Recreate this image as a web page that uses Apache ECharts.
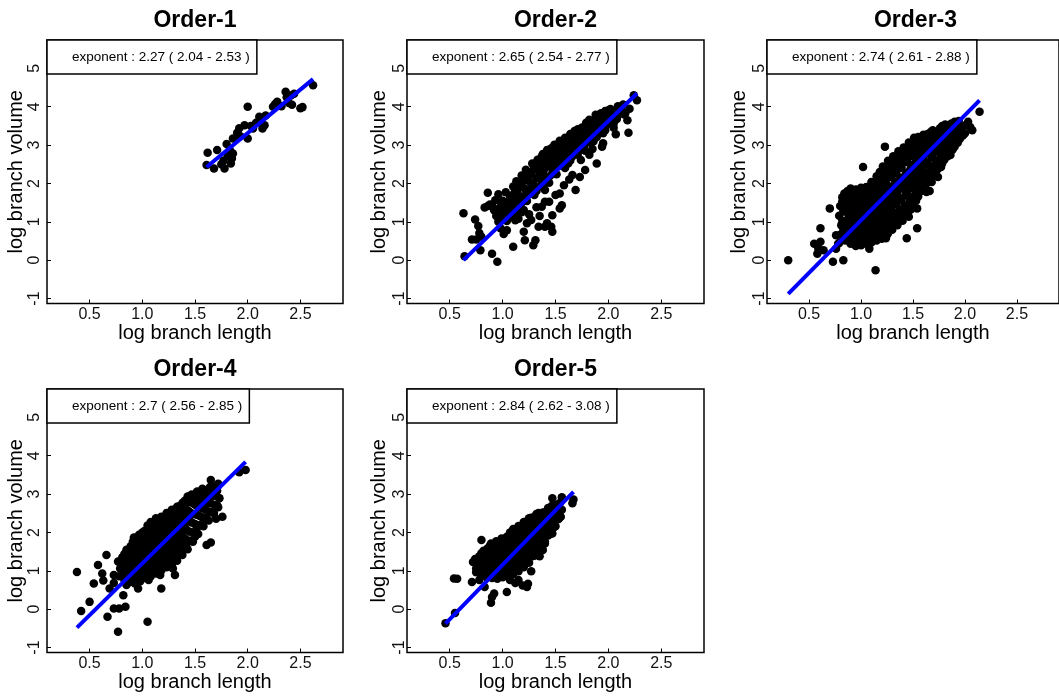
<!DOCTYPE html>
<html>
<head>
<meta charset="utf-8">
<script src="https://cdn.jsdelivr.net/npm/echarts@6/dist/echarts.min.js"></script>
<style>
  html, body { margin: 0; padding: 0; background: #fff; }
  #chart { width: 1059px; height: 698px; }
</style>
</head>
<body>
<div id="chart"></div>
<script>
// Allometric scaling of branch volume against branch length, one panel per branch order.
const panelTitles = ['Order-1', 'Order-2', 'Order-3', 'Order-4', 'Order-5'];
const exponents = [2.27, 2.65, 2.74, 2.7, 2.84];
const ciLow = [2.04, 2.54, 2.61, 2.56, 2.62];
const ciHigh = [2.53, 2.77, 2.88, 2.85, 3.08];
const intercepts = [-1.227, -1.67, -1.70, -1.506, -1.685];
const xTicks = [0.5, 1.0, 1.5, 2.0, 2.5];
const yTicks = [-1, 0, 1, 2, 3, 4, 5];

// [log branch length, log branch volume]
const order1 = [
  [1.62,2.80],[1.61,2.48],[1.68,2.39],[1.71,2.87],[1.77,2.59],[1.78,2.39],[1.81,2.71],[1.80,3.03],
  [1.84,2.52],[1.85,2.65],[1.86,2.78],[1.86,3.17],[1.90,3.32],[1.92,3.44],[1.93,3.23],[1.97,3.52],
  [2.00,4.00],[2.00,3.17],[2.05,3.43],[2.08,3.58],[2.11,3.74],[2.14,3.43],[2.16,3.52],[2.17,3.77],
  [2.24,4.00],[2.26,4.07],[2.28,4.13],[2.32,4.01],[2.36,4.39],[2.37,4.25],[2.39,4.10],[2.41,4.29],
  [2.44,4.34],[2.42,4.05],[2.50,3.96],[2.52,3.99],[2.62,4.56],[1.75,2.50],[1.83,2.88],[2.03,3.50],
  [2.12,3.62]
];

const order2 = [
  [0.63,1.22],[0.64,0.10],[0.74,1.06],[0.77,0.89],[0.78,0.71],[0.71,0.54],[0.75,0.54],[0.80,0.61],
  [0.83,1.37],[0.86,1.41],[0.86,1.76],[0.90,1.41],[0.79,0.26],[0.90,0.17],[0.95,-0.04],[0.94,1.15],
  [0.96,1.00],[0.98,0.83],[1.01,0.68],[0.97,1.17],[1.04,0.78],[1.10,0.35],[1.12,1.04],[1.20,0.74],
  [1.21,0.52],[1.23,0.96],[1.29,0.39],[1.31,0.52],[1.34,0.87],[1.40,0.87],[1.42,0.96],[1.47,0.74],
  [1.46,0.87],[1.37,1.39],[1.40,1.52],[1.47,1.17],[1.54,1.35],[1.56,1.43],[1.69,1.83],[1.66,2.22],
  [1.73,2.17],[1.78,2.35],[1.74,2.61],[1.54,1.74],[1.50,1.70],[1.40,1.83],[1.62,2.52],[1.89,2.52],
  [1.94,2.96],[1.97,3.39],[2.07,3.28],[2.18,3.65],[2.19,3.32],[2.24,4.30],[2.27,4.17],
  [1.08,1.12],[1.15,1.08],[1.18,1.25],[1.25,1.20],[1.27,1.05],[1.32,1.38],[1.35,1.15],[1.44,1.52],
  [1.58,1.95],[1.63,2.10],[1.82,2.75],[1.85,2.90],[1.95,3.05],[2.05,3.45],[2.15,3.80],[2.20,3.95],
  [1.84,3.48],[2.00,3.91],[2.16,3.83],[2.10,3.91],[2.05,3.74],
  [0.88,1.45],[0.92,1.30],[0.93,1.56],[0.96,1.72],[0.97,1.36],[1.00,1.55],[0.98,1.12],[1.02,1.22],
  [1.03,1.77],[1.05,1.46],[1.04,1.02],[1.07,1.66],[1.08,1.31],[1.10,1.92],[1.11,1.56],[1.12,1.18],
  [1.13,2.06],[1.14,1.76],[1.09,1.44],[1.16,1.41],[1.17,1.97],[1.18,2.21],[1.19,1.66],[1.21,1.86],
  [1.22,2.36],[1.23,1.54],[1.24,2.07],[1.20,1.31],[1.26,1.79],[1.27,2.26],[1.28,2.52],[1.29,2.01],
  [1.30,1.70],[1.31,2.41],[1.32,2.14],[1.33,2.62],[1.34,1.91],[1.35,2.31],[1.36,2.56],[1.37,2.06],
  [1.38,2.77],[1.39,2.36],[1.40,2.19],[1.41,2.66],[1.42,2.87],[1.43,2.46],[1.44,2.02],[1.45,2.71],
  [1.46,2.92],[1.47,2.36],[1.48,2.56],[1.49,3.01],[1.50,2.76],[1.51,2.24],[1.52,2.96],[1.53,2.61],
  [1.54,3.11],[1.55,2.81],[1.56,2.46],[1.57,3.02],[1.58,2.71],[1.59,3.19],[1.60,2.91],[1.61,2.56],
  [1.62,3.09],[1.63,2.81],[1.64,3.29],[1.65,3.01],[1.66,2.71],[1.67,3.21],[1.68,3.37],[1.69,2.96],
  [1.70,3.11],[1.71,3.41],[1.72,2.86],[1.73,3.29],[1.74,3.06],[1.75,3.46],[1.76,3.21],[1.77,2.96],
  [1.78,3.41],[1.79,3.58],[1.80,3.16],[1.81,3.36],[1.82,3.66],[1.83,3.06],[1.84,3.51],[1.85,3.31],
  [1.86,3.64],[1.87,3.41],[1.88,3.79],[1.89,3.21],[1.90,3.56],[1.91,3.74],[1.92,3.42],[1.93,3.83],
  [1.94,3.61],[1.95,3.31],[1.96,3.76],[1.97,3.89],[1.98,3.52],[2.00,3.81],[2.01,3.66],[2.02,3.94],
  [2.04,3.76],[2.05,3.56],[2.07,3.91],[2.09,4.01],[2.10,3.81],[2.12,3.96],[2.14,4.06],
  [1.01,1.38],[1.06,1.55],[1.11,1.75],[1.15,1.60],[1.16,1.90],[1.19,2.05],[1.22,1.70],[1.25,2.20],
  [1.27,1.90],[1.29,2.35],[1.32,1.80],[1.33,2.45],[1.36,2.20],[1.37,2.70],[1.39,1.98],[1.41,2.45],
  [1.43,2.75],[1.45,2.20],[1.47,2.60],[1.48,2.85],[1.50,2.45],[1.52,2.70],[1.54,2.92],[1.56,2.62],
  [1.57,2.88],[1.59,2.40],[1.61,2.75],[1.62,3.20],[1.64,2.60],[1.66,3.10],[1.67,2.85],[1.69,3.28],
  [1.71,2.75],[1.72,3.15],[1.74,3.38],[1.76,3.05],[1.78,2.85],[1.79,3.28],[1.81,3.50],[1.83,3.20],
  [1.85,3.45],[1.86,3.10],[1.88,3.60],[1.90,3.38],[1.92,3.60],[1.94,3.45],[1.96,3.60],[1.99,3.70],
  [2.03,3.62],[2.06,3.80],[2.08,3.68],[2.11,3.88],[1.18,1.50],[1.12,1.35],[1.05,1.25],[0.99,1.45]
];

const order3 = [
  [0.30,0.00],[0.58,0.17],[0.55,0.43],[0.61,0.83],[0.59,0.30],[0.64,0.26],[0.70,1.35],[0.73,-0.04],
  [0.83,0.00],[0.76,0.65],[0.78,0.43],[1.02,2.43],[1.23,2.96],[1.14,-0.26],[1.08,0.30],[1.00,0.39],
  [1.24,0.57],[1.26,0.70],[1.44,0.57],[1.46,1.13],[1.54,1.35],[1.54,0.83],[1.63,1.78],[1.68,2.04],
  [1.66,1.80],[1.74,2.17],[1.77,2.43],[1.86,2.74],[1.87,3.22],[1.81,3.00],[1.93,3.43],[2.03,3.61],
  [2.07,3.39],[2.05,3.47],[2.14,3.87],[0.61,0.48],[0.58,0.39],[0.76,0.30],[0.79,0.45],
  [0.80,0.66],[0.81,0.91],[0.79,1.16],[0.80,1.41],[0.82,1.64],
  [0.85,0.51],[0.86,0.76],[0.84,1.01],[0.85,1.26],[0.86,1.49],[0.84,1.74],
  [0.90,0.43],[0.91,0.67],[0.89,0.96],[0.90,1.21],[0.91,1.44],[0.89,1.69],[0.90,1.87],
  [0.95,0.37],[0.96,0.61],[0.94,0.86],[0.95,1.09],[0.96,1.36],[0.94,1.61],[0.95,1.84],
  [1.00,0.41],[1.01,0.64],[0.99,0.91],[1.00,1.14],[1.01,1.41],[0.99,1.66],[1.00,1.89],
  [1.05,0.43],[1.06,0.69],[1.04,0.96],[1.05,1.19],[1.06,1.46],[1.04,1.71],[1.05,1.91],
  [1.10,0.46],[1.11,0.73],[1.09,0.99],[1.10,1.26],[1.11,1.51],[1.09,1.77],[1.10,2.04],
  [1.15,0.51],[1.16,0.77],[1.14,1.06],[1.15,1.31],[1.16,1.57],[1.14,1.84],[1.15,2.19],
  [1.20,0.56],[1.21,0.83],[1.19,1.09],[1.20,1.37],[1.21,1.64],[1.19,1.93],[1.20,2.21],[1.21,2.44],
  [1.25,0.66],[1.26,0.91],[1.24,1.21],[1.25,1.47],[1.26,1.76],[1.24,2.01],[1.25,2.31],[1.26,2.59],
  [1.30,0.79],[1.31,1.04],[1.29,1.33],[1.30,1.59],[1.31,1.87],[1.29,2.16],[1.30,2.41],[1.31,2.71],
  [1.35,0.91],[1.36,1.17],[1.34,1.46],[1.35,1.71],[1.36,2.01],[1.34,2.27],[1.35,2.56],[1.36,2.84],
  [1.40,1.03],[1.41,1.29],[1.39,1.57],[1.40,1.86],[1.41,2.11],[1.39,2.41],[1.40,2.67],[1.41,2.94],
  [1.45,1.21],[1.46,1.47],[1.44,1.76],[1.45,2.01],[1.46,2.31],[1.44,2.57],[1.45,2.86],[1.46,3.07],
  [1.50,1.41],[1.51,1.67],[1.49,1.96],[1.50,2.21],[1.51,2.51],[1.49,2.77],[1.50,3.04],[1.51,3.19],
  [1.55,1.66],[1.56,1.91],[1.54,2.19],[1.55,2.44],[1.56,2.73],[1.54,2.99],[1.55,3.21],
  [1.60,1.91],[1.61,2.14],[1.59,2.41],[1.60,2.66],[1.61,2.93],[1.59,3.17],[1.60,3.27],
  [1.65,2.06],[1.66,2.31],[1.64,2.54],[1.65,2.81],[1.66,3.04],[1.64,3.29],
  [1.70,2.26],[1.71,2.49],[1.69,2.76],[1.70,2.99],[1.71,3.26],[1.69,3.39],
  [1.75,2.41],[1.76,2.66],[1.74,2.89],[1.75,3.16],[1.76,3.44],
  [1.80,2.61],[1.81,2.84],[1.79,3.11],[1.80,3.34],[1.81,3.54],
  [1.85,2.76],[1.86,3.01],[1.84,3.24],[1.85,3.51],
  [1.90,2.96],[1.91,3.19],[1.89,3.46],[1.90,3.61],
  [1.95,3.16],[1.96,3.41],[1.94,3.63],
  [2.00,3.31],[2.01,3.53],
  [0.83,0.78],[0.82,1.03],[0.83,1.28],[0.82,1.53],
  [0.88,0.60],[0.87,0.85],[0.88,1.10],[0.87,1.35],[0.88,1.60],[0.87,1.80],
  [0.93,0.52],[0.92,0.80],[0.93,1.05],[0.92,1.30],[0.93,1.55],[0.92,1.78],
  [0.98,0.50],[0.97,0.75],[0.98,1.00],[0.97,1.25],[0.98,1.50],[0.97,1.75],
  [1.03,0.53],[1.02,0.80],[1.03,1.05],[1.02,1.30],[1.03,1.55],[1.02,1.80],
  [1.08,0.57],[1.07,0.85],[1.08,1.10],[1.07,1.35],[1.08,1.62],[1.07,1.85],
  [1.13,0.60],[1.12,0.88],[1.13,1.15],[1.12,1.40],[1.13,1.68],[1.12,1.95],
  [1.18,0.66],[1.17,0.93],[1.18,1.20],[1.17,1.48],[1.18,1.75],[1.17,2.05],[1.18,2.30],
  [1.23,0.72],[1.22,1.00],[1.23,1.28],[1.22,1.55],[1.23,1.82],[1.22,2.10],[1.23,2.35],
  [1.28,0.85],[1.27,1.10],[1.28,1.38],[1.27,1.65],[1.28,1.92],[1.27,2.20],[1.28,2.48],
  [1.33,0.95],[1.32,1.22],[1.33,1.50],[1.32,1.77],[1.33,2.05],[1.32,2.32],[1.33,2.60],
  [1.38,1.05],[1.37,1.32],[1.38,1.60],[1.37,1.88],[1.38,2.15],[1.37,2.42],[1.38,2.70],
  [1.43,1.15],[1.42,1.42],[1.43,1.70],[1.42,1.98],[1.43,2.25],[1.42,2.55],[1.43,2.82],
  [1.48,1.32],[1.47,1.60],[1.48,1.88],[1.47,2.15],[1.48,2.42],[1.47,2.70],[1.48,2.97],
  [1.53,1.55],[1.52,1.82],[1.53,2.08],[1.52,2.35],[1.53,2.62],[1.52,2.90],[1.53,3.12],
  [1.58,1.80],[1.57,2.05],[1.58,2.30],[1.57,2.58],[1.58,2.85],[1.57,3.10],
  [1.63,2.00],[1.62,2.25],[1.63,2.50],[1.62,2.78],[1.63,3.05],[1.62,3.24],
  [1.68,2.18],[1.67,2.42],[1.68,2.68],[1.67,2.92],[1.68,3.17],[1.67,3.34],
  [1.73,2.35],[1.72,2.60],[1.73,2.85],[1.72,3.10],[1.73,3.35],
  [1.78,2.52],[1.77,2.78],[1.78,3.02],[1.77,3.27],[1.78,3.50],
  [1.83,2.70],[1.82,2.95],[1.83,3.20],[1.82,3.45],
  [1.88,2.88],[1.87,3.12],[1.88,3.35],[1.87,3.56],
  [1.93,3.06],[1.92,3.30],[1.93,3.55],
  [1.98,3.25],[1.97,3.47]
];

const order4 = [
  [0.38,0.97],[0.42,-0.05],[0.50,0.19],[0.54,0.67],[0.58,1.15],[0.62,0.93],[0.63,0.75],[0.66,1.41],
  [0.69,0.54],[0.67,-0.20],[0.73,0.02],[0.78,0.02],[0.77,-0.59],[0.84,0.06],[0.82,0.36],[0.73,0.89],
  [0.73,0.68],[0.85,0.63],[0.96,0.54],[1.05,-0.33],[1.06,0.76],[1.18,0.54],[1.17,0.89],[1.31,0.89],
  [1.29,1.06],[1.36,1.41],[1.42,1.71],[1.50,1.89],[1.51,2.06],[1.61,1.67],[1.65,1.74],[1.70,2.36],
  [1.76,2.41],[1.65,3.37],[1.73,2.89],[1.92,3.57],[1.98,3.63],[1.58,2.36],[1.48,2.89],
  [0.78,0.86],[0.79,1.06],[0.77,1.24],
  [0.83,0.76],[0.84,1.01],[0.82,1.26],[0.83,1.44],
  [0.88,0.71],[0.89,0.96],[0.87,1.21],[0.88,1.46],[0.89,1.64],
  [0.93,0.67],[0.94,0.93],[0.92,1.17],[0.93,1.43],[0.94,1.67],[0.92,1.87],
  [0.98,0.73],[0.99,0.97],[0.97,1.23],[0.98,1.47],[0.99,1.73],[0.97,1.94],
  [1.03,0.81],[1.04,1.04],[1.02,1.31],[1.03,1.54],[1.04,1.81],[1.02,2.04],
  [1.08,0.86],[1.09,1.11],[1.07,1.34],[1.08,1.61],[1.09,1.84],[1.07,2.11],[1.08,2.27],
  [1.13,0.93],[1.14,1.17],[1.12,1.43],[1.13,1.67],[1.14,1.93],[1.12,2.14],[1.13,2.37],
  [1.18,1.01],[1.19,1.24],[1.17,1.51],[1.18,1.74],[1.19,2.01],[1.17,2.21],[1.18,2.41],
  [1.23,1.09],[1.24,1.31],[1.22,1.57],[1.23,1.83],[1.24,2.07],[1.22,2.31],[1.23,2.51],
  [1.28,1.16],[1.29,1.41],[1.27,1.64],[1.28,1.91],[1.29,2.14],[1.27,2.39],[1.28,2.59],
  [1.33,1.26],[1.34,1.49],[1.32,1.76],[1.33,1.99],[1.34,2.26],[1.32,2.47],[1.33,2.67],
  [1.38,1.41],[1.39,1.64],[1.37,1.91],[1.38,2.14],[1.39,2.41],[1.37,2.61],[1.38,2.77],
  [1.43,1.56],[1.44,1.79],[1.42,2.06],[1.43,2.29],[1.44,2.56],[1.42,2.77],[1.43,2.94],
  [1.48,1.76],[1.49,1.99],[1.47,2.26],[1.48,2.49],[1.49,2.76],[1.47,2.99],
  [1.53,1.96],[1.54,2.19],[1.52,2.46],[1.53,2.69],[1.54,2.91],[1.52,3.07],
  [1.58,2.16],[1.59,2.39],[1.57,2.63],[1.58,2.84],[1.59,3.04],[1.57,3.14],
  [1.63,2.31],[1.64,2.54],[1.62,2.79],[1.63,2.99],[1.64,3.17],
  [1.68,2.51],[1.69,2.71],[1.67,2.96],[1.68,3.19],
  [1.72,2.66],[1.73,2.89],[1.71,3.09],[1.72,3.27],
  [0.81,0.90],[0.80,1.15],[0.81,1.35],
  [0.86,0.85],[0.85,1.10],[0.86,1.35],[0.85,1.55],
  [0.91,0.82],[0.90,1.07],[0.91,1.32],[0.90,1.57],[0.91,1.76],
  [0.96,0.80],[0.95,1.05],[0.96,1.30],[0.95,1.55],[0.96,1.80],
  [1.01,0.85],[1.00,1.10],[1.01,1.35],[1.00,1.60],[1.01,1.85],[1.00,2.00],
  [1.06,0.92],[1.05,1.18],[1.06,1.42],[1.05,1.68],[1.06,1.92],[1.05,2.18],
  [1.11,0.98],[1.10,1.23],[1.11,1.48],[1.10,1.73],[1.11,1.98],[1.10,2.20],
  [1.16,1.05],[1.15,1.30],[1.16,1.55],[1.15,1.80],[1.16,2.05],[1.15,2.30],
  [1.21,1.12],[1.20,1.38],[1.21,1.62],[1.20,1.88],[1.21,2.12],[1.20,2.36],
  [1.26,1.22],[1.25,1.47],[1.26,1.72],[1.25,1.97],[1.26,2.22],[1.25,2.46],
  [1.31,1.32],[1.30,1.57],[1.31,1.82],[1.30,2.07],[1.31,2.32],[1.30,2.55],
  [1.36,1.45],[1.35,1.70],[1.36,1.95],[1.35,2.20],[1.36,2.45],[1.35,2.68],
  [1.41,1.60],[1.40,1.85],[1.41,2.10],[1.40,2.35],[1.41,2.60],[1.40,2.82],
  [1.46,1.78],[1.45,2.02],[1.46,2.27],[1.45,2.52],[1.46,2.78],[1.45,2.95],
  [1.51,1.98],[1.50,2.22],[1.51,2.47],[1.50,2.72],[1.51,2.95],
  [1.56,2.18],[1.55,2.42],[1.56,2.66],[1.55,2.88],[1.56,3.08],
  [1.61,2.35],[1.60,2.60],[1.61,2.84],[1.60,3.08],
  [1.66,2.52],[1.65,2.76],[1.66,3.00],[1.65,3.20],
  [1.71,2.70],[1.70,2.95],[1.71,3.18]
];

const order5 = [
  [0.46,-0.37],[0.55,-0.10],[0.54,0.80],[0.57,0.79],[0.80,1.80],[0.71,0.71],[0.72,1.23],[0.75,1.06],
  [0.78,0.76],[0.83,0.58],[0.90,0.32],[0.89,0.17],[0.92,0.41],[1.04,0.45],[1.07,0.76],[1.12,0.68],
  [1.15,0.76],[1.19,0.62],[1.23,0.58],[1.24,0.66],[1.27,0.99],[1.35,1.38],[1.38,1.54],[1.40,1.71],
  [1.47,1.97],[1.33,2.06],[1.36,2.29],[1.43,2.41],[1.48,2.59],[1.53,2.71],[1.56,2.92],[1.66,2.76],
  [1.67,2.86],[1.47,2.89],
  [0.75,0.96],[0.76,1.16],[0.74,1.31],
  [0.80,0.89],[0.81,1.09],[0.79,1.27],[0.80,1.46],
  [0.85,0.83],[0.86,1.03],[0.84,1.21],[0.85,1.41],[0.86,1.59],
  [0.90,0.81],[0.91,1.01],[0.89,1.19],[0.90,1.41],[0.91,1.59],[0.89,1.71],
  [0.95,0.79],[0.96,0.99],[0.94,1.21],[0.95,1.39],[0.96,1.57],[0.94,1.77],
  [1.00,0.83],[1.01,1.03],[0.99,1.21],[1.00,1.43],[1.01,1.61],[0.99,1.84],
  [1.05,0.86],[1.06,1.04],[1.04,1.26],[1.05,1.44],[1.06,1.66],[1.04,1.89],
  [1.10,0.91],[1.11,1.09],[1.09,1.31],[1.10,1.49],[1.11,1.73],[1.09,1.94],[1.10,2.09],
  [1.15,0.99],[1.16,1.17],[1.14,1.39],[1.15,1.57],[1.16,1.81],[1.14,2.01],[1.15,2.17],
  [1.20,1.09],[1.21,1.27],[1.19,1.49],[1.20,1.69],[1.21,1.91],[1.19,2.09],[1.20,2.27],
  [1.25,1.21],[1.26,1.39],[1.24,1.61],[1.25,1.83],[1.26,2.01],[1.24,2.21],[1.25,2.37],
  [1.30,1.39],[1.31,1.57],[1.29,1.79],[1.30,1.97],[1.31,2.19],[1.29,2.39],
  [1.35,1.56],[1.36,1.74],[1.34,1.96],[1.35,2.14],[1.36,2.36],[1.34,2.51],
  [1.40,1.76],[1.41,1.94],[1.39,2.16],[1.40,2.34],[1.41,2.54],
  [1.45,1.96],[1.46,2.14],[1.44,2.36],[1.45,2.54],[1.46,2.67],
  [1.50,2.16],[1.51,2.34],[1.49,2.56],[1.50,2.71],
  [1.55,2.41],[1.56,2.59],[1.54,2.77],
  [0.78,1.02],[0.77,1.22],[0.78,1.38],
  [0.83,0.95],[0.82,1.15],[0.83,1.35],[0.82,1.52],
  [0.88,0.90],[0.87,1.10],[0.88,1.30],[0.87,1.50],[0.88,1.65],
  [0.93,0.88],[0.92,1.08],[0.93,1.30],[0.92,1.50],[0.93,1.68],
  [0.98,0.90],[0.97,1.10],[0.98,1.30],[0.97,1.50],[0.98,1.70],
  [1.03,0.93],[1.02,1.13],[1.03,1.33],[1.02,1.53],[1.03,1.75],
  [1.08,0.98],[1.07,1.18],[1.08,1.38],[1.07,1.60],[1.08,1.82],[1.07,2.00],
  [1.13,1.05],[1.12,1.25],[1.13,1.45],[1.12,1.65],[1.13,1.88],[1.12,2.08],
  [1.18,1.12],[1.17,1.32],[1.18,1.52],[1.17,1.74],[1.18,1.96],[1.17,2.15],
  [1.23,1.25],[1.22,1.45],[1.23,1.65],[1.22,1.86],[1.23,2.06],[1.22,2.28],
  [1.28,1.38],[1.27,1.58],[1.28,1.78],[1.27,1.98],[1.28,2.18],[1.27,2.38],
  [1.33,1.55],[1.32,1.75],[1.33,1.95],[1.32,2.15],[1.33,2.35],[1.32,2.48],
  [1.38,1.72],[1.37,1.92],[1.38,2.12],[1.37,2.32],[1.38,2.52],
  [1.43,1.92],[1.42,2.12],[1.43,2.32],[1.42,2.52],[1.43,2.64],
  [1.48,2.12],[1.47,2.32],[1.48,2.52],[1.47,2.70],
  [1.53,2.35],[1.52,2.55],[1.53,2.74]
];

const panelPoints = [order1, order2, order3, order4, order5];

// Panel frames in pixels (column index drives label spacing)
const frames = [
  { left: 47,  top: 40,  width: 296, col: 0 },
  { left: 407, top: 40,  width: 297, col: 1 },
  { left: 767, top: 40,  width: 297, col: 2 },
  { left: 47,  top: 389, width: 296, col: 0 },
  { left: 407, top: 389, width: 297, col: 1 }
];
const frameHeight = 263.5;
const X_MIN = 0.096, X_MAX = 2.904;
const Y_MIN = -1.13, Y_MAX = 5.74;
const FONT = '"Liberation Sans", Arial, sans-serif';

const measureCtx = document.createElement('canvas').getContext('2d');
measureCtx.font = '13.5px ' + FONT;

const grids = [], xAxes = [], yAxes = [], series = [], graphics = [];

frames.forEach((f, i) => {
  grids.push({
    left: f.left, top: f.top, width: f.width, height: frameHeight,
    show: true, borderColor: '#000', borderWidth: 1.5, backgroundColor: 'transparent'
  });

  xAxes.push({
    gridIndex: i, type: 'value', min: X_MIN, max: X_MAX, position: 'bottom',
    name: 'log branch length', nameLocation: 'middle', nameGap: 17,
    nameTextStyle: { fontFamily: FONT, fontSize: 20, color: '#000' },
    axisLine: { show: false, onZero: false },
    axisTick: { show: true, inside: true, length: 4, customValues: xTicks, lineStyle: { color: '#000', width: 1 } },
    axisLabel: { customValues: xTicks, formatter: v => v.toFixed(1), fontFamily: FONT, fontSize: 16, color: '#111', margin: 3 },
    splitLine: { show: false }
  });

  const leftCol = f.col === 0;
  yAxes.push({
    gridIndex: i, type: 'value', min: Y_MIN, max: Y_MAX, position: 'left',
    name: 'log branch volume', nameLocation: 'middle', nameGap: leftCol ? 14 : 18,
    nameTextStyle: { fontFamily: FONT, fontSize: 20, color: '#000' },
    axisLine: { show: false, onZero: false },
    axisTick: { show: true, inside: true, length: 4, customValues: yTicks, lineStyle: { color: '#000', width: 1 } },
    axisLabel: { customValues: yTicks, formatter: v => String(Math.round(v)), rotate: 90,
      fontFamily: FONT, fontSize: 16, color: '#111', margin: leftCol ? 4 : -1 },
    splitLine: { show: false }
  });

  const pts = panelPoints[i];
  series.push({
    type: 'scatter', xAxisIndex: i, yAxisIndex: i, data: pts,
    symbol: 'circle', symbolSize: 8.5, itemStyle: { color: '#000', opacity: 1 }, silent: true
  });

  // Fitted scaling line across the observed length range
  const xs = pts.map(p => p[0]);
  const x0 = Math.min(...xs), x1 = Math.max(...xs);
  const b = intercepts[i], s = exponents[i];
  series.push({
    type: 'line', xAxisIndex: i, yAxisIndex: i,
    data: [[x0, b + s * x0], [x1, b + s * x1]],
    symbol: 'none', silent: true,
    lineStyle: { color: '#0000ff', width: 4 }
  });

  // Panel title
  graphics.push({
    type: 'text', x: f.left + f.width / 2, y: f.top - 19, silent: true,
    style: { text: panelTitles[i], font: 'bold 23px ' + FONT, fill: '#000', align: 'center', verticalAlign: 'middle' }
  });

  // Exponent legend box
  const label = 'exponent : ' + exponents[i] + ' ( ' + ciLow[i] + ' - ' + ciHigh[i] + ' )';
  const tw = measureCtx.measureText(label).width;
  graphics.push({
    type: 'rect', z: 10, silent: true,
    shape: { x: f.left, y: f.top, width: 25 + tw + 7, height: 34 },
    style: { fill: '#fff', stroke: '#000', lineWidth: 1.5 }
  });
  graphics.push({
    type: 'text', z: 11, x: f.left + 25, y: f.top + 17, silent: true,
    style: { text: label, font: '13.5px ' + FONT, fill: '#000', align: 'left', verticalAlign: 'middle' }
  });
});

const chart = echarts.init(document.getElementById('chart'), null, { renderer: 'canvas' });
chart.setOption({
  animation: false,
  backgroundColor: '#fff',
  grid: grids,
  xAxis: xAxes,
  yAxis: yAxes,
  series: series,
  graphic: graphics
});
</script>
</body>
</html>
